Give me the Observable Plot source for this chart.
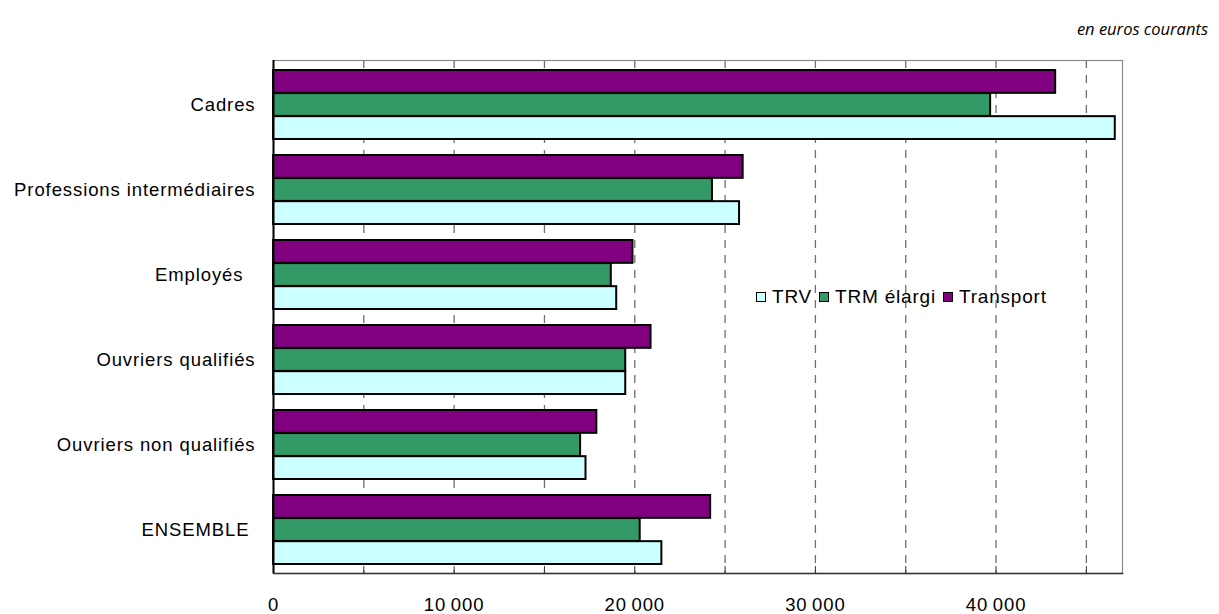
<!DOCTYPE html>
<html>
<head>
<meta charset="utf-8">
<script src="https://cdn.jsdelivr.net/npm/d3@7"></script>
<script src="https://cdn.jsdelivr.net/npm/@observablehq/plot@0.6"></script>
<style>
  body { margin: 0; background: #fff; }
  #wrap { position: relative; width: 1219px; height: 614px; overflow: hidden; background: #fff; }
  #sub { position: absolute; right: 11px; top: 17px; font: italic 16.5px "Open Sans", sans-serif; color: #000; }
  #legend { position: absolute; left: 756px; top: 286px; display: flex; align-items: center;
            font: 19px "Liberation Sans", Arial, sans-serif; letter-spacing: 0.8px; color: #000; }
  #legend .item { display: flex; align-items: center; margin-right: 7px; }
  #legend .sw { width: 8px; height: 8px; border: 1.5px solid #000; margin-right: 6px; }
</style>
</head>
<body>
<div id="wrap">
  <div id="chart"></div>
  <div id="sub">en euros courants</div>
  <div id="legend"></div>
</div>
<script>
const categories = ["Cadres", "Professions intermédiaires", "Employés\u00a0\u00a0", "Ouvriers qualifiés", "Ouvriers non qualifiés", "ENSEMBLE\u00a0"];
const trv        = [46600, 25800, 19000, 19500, 17300, 21500];
const trmElargi  = [39700, 24300, 18700, 19500, 17000, 20300];
const transport  = [43300, 26000, 19900, 20900, 17900, 24200];
const seriesNames  = ["TRV", "TRM élargi", "Transport"];
const seriesColors = ["#CCFFFF", "#339966", "#800080"];
const xTicks    = [0, 10000, 20000, 30000, 40000];
const gridTicks = [5000, 10000, 15000, 20000, 25000, 30000, 35000, 40000, 45000];

const W = 1219, H = 614;
const mL = 273, mR = 97, mT = 60, mB = 41;
const padInner = 0.19;
const step = (H - mT - mB) / categories.length;
const bw = step * (1 - padInner);
const b = bw / 3;

const rows = vals => categories.map((c, i) => ({category: c, value: vals[i]}));
const fmt = d => d3.format(",")(d).replace(/,/g, "\u2009");

const barStyle = {x: "value", y: "category", stroke: "#000", strokeWidth: 2};

const plot = Plot.plot({
  width: W, height: H,
  marginLeft: mL, marginRight: mR, marginTop: mT, marginBottom: mB,
  style: {fontFamily: "'Liberation Sans', Arial, sans-serif", fontSize: "18.5px", letterSpacing: "0.9px", color: "#000"},
  x: {domain: [0, 47000]},
  y: {domain: categories, paddingInner: padInner, paddingOuter: padInner / 2},
  marks: [
    Plot.ruleX(gridTicks, {stroke: "#6f6f6f", strokeWidth: 1.3, strokeDasharray: "8,7"}),
    Plot.barX(rows(transport), {...barStyle, fill: seriesColors[2], insetTop: 0, insetBottom: 2 * b}),
    Plot.barX(rows(trmElargi), {...barStyle, fill: seriesColors[1], insetTop: b, insetBottom: b}),
    Plot.barX(rows(trv), {...barStyle, fill: seriesColors[0], insetTop: 2 * b, insetBottom: 0}),
    Plot.frame({stroke: "#8a8a8a", strokeWidth: 1.2}),
    Plot.frame({anchor: "bottom", stroke: "#333", strokeWidth: 1.5}),
    Plot.ruleX([0], {stroke: "#000", strokeWidth: 2}),
    Plot.axisX(gridTicks, {tickSize: 7, dy: -7, fill: "none", stroke: "#333"}),
    Plot.axisX(xTicks, {tickSize: 0, tickPadding: 24, tickFormat: fmt, label: null}),
    Plot.axisY({tickSize: 0, tickPadding: 18, label: null})
  ]
});
document.getElementById("chart").appendChild(plot);

const legend = document.getElementById("legend");
seriesNames.forEach((name, i) => {
  const it = document.createElement("div");
  it.className = "item";
  const sw = document.createElement("span");
  sw.className = "sw";
  sw.style.background = seriesColors[i];
  const t = document.createElement("span");
  t.textContent = name;
  it.appendChild(sw); it.appendChild(t);
  legend.appendChild(it);
});
</script>
</body>
</html>
